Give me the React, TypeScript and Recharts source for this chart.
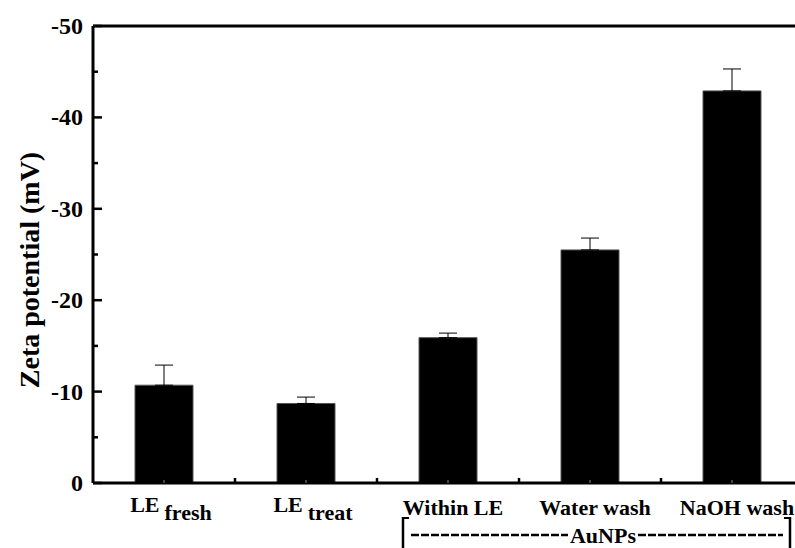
import { BarChart, Bar, XAxis, YAxis, ErrorBar, Customized } from 'recharts';

const labelMain = ['LE', 'LE', 'Within LE', 'Water wash', 'NaOH wash'];
const labelSub = ['fresh', 'treat', '', '', ''];
const zeta = [-10.7, -8.7, -15.9, -25.5, -42.9];
const zetaErr = [2.2, 0.7, 0.5, 1.3, 2.4];
const yTicks = [0, -5, -10, -15, -20, -25, -30, -35, -40, -45, -50];
const yTitle = 'Zeta potential (mV)';
const groupLabel = 'AuNPs';

// error bars only point away from zero (upwards on the reversed axis)
const data = labelMain.map((m, i) => ({
  name: m + (labelSub[i] ? ' ' + labelSub[i] : ''),
  main: m,
  sub: labelSub[i],
  zeta: zeta[i],
  err: [zetaErr[i], 0],
}));

const FONT = '"Liberation Serif", "Times New Roman", serif';
const W = 815;
const H = 548;
const PLOT_LEFT = 93;
const PLOT_TOP = 26;
const PLOT_BOTTOM = 483;
const BAND = 142;

const YTick = ({ y, payload }: any) => {
  const major = payload.value % 10 === 0;
  return (
    <g>
      <path d={`M${PLOT_LEFT},${y}h${major ? 9 : 5}`} stroke="#000" strokeWidth={2.5} fill="none" />
      {major && (
        <text x={PLOT_LEFT - 10} y={y} dy={8} textAnchor="end" fontFamily={FONT} fontWeight="bold" fontSize={24} fill="#000">
          {payload.value}
        </text>
      )}
    </g>
  );
};

const XTick = ({ x, index }: any) => {
  const d = data[index];
  const last = index === data.length - 1;
  return (
    <g>
      <path d={`M${x},${PLOT_BOTTOM}v-3`} stroke="#888" strokeWidth={1} fill="none" />
      {!last && <path d={`M${x + BAND / 2},${PLOT_BOTTOM}v-5`} stroke="#000" strokeWidth={2.5} fill="none" />}
      {d.sub ? (
        <text x={x + 7} y={511.5} textAnchor="middle" fontFamily={FONT} fontWeight="bold" fontSize={22} fill="#000">
          <tspan>{d.main}</tspan>
          <tspan dx={5} dy={8}>{d.sub}</tspan>
        </text>
      ) : (
        <text x={x + 5} y={515} textAnchor="middle" fontFamily={FONT} fontWeight="bold" fontSize={22} fill="#000">
          {d.main}
        </text>
      )}
    </g>
  );
};

const TopTick = ({ x }: any) => (
  <g>
    <path d={`M${x},${PLOT_TOP}v3M${x - BAND / 2},${PLOT_TOP}v3`} stroke="#555" strokeWidth={1} fill="none" />
  </g>
);

const Extras = () => {
  const y = 535;
  return (
    <g>
      <line x1={PLOT_LEFT} x2={W} y1={PLOT_TOP} y2={PLOT_TOP} stroke="#000" strokeWidth={3} />
      <text
        transform="translate(39,270) rotate(-90)"
        textAnchor="middle"
        fontFamily={FONT}
        fontWeight="bold"
        fontSize={28}
        fill="#000"
      >
        {yTitle}
      </text>
      <line x1={403} x2={403} y1={517} y2={550} stroke="#000" strokeWidth={2.5} />
      <line x1={402} x2={409} y1={518} y2={518} stroke="#000" strokeWidth={2} />
      <line x1={411} x2={568} y1={y} y2={y} stroke="#000" strokeWidth={2.5} strokeDasharray="8 2" />
      <text x={603} y={543} textAnchor="middle" fontFamily={FONT} fontWeight="bold" fontSize={22} fill="#000">
        {groupLabel}
      </text>
      <line x1={638} x2={783} y1={y} y2={y} stroke="#000" strokeWidth={2.5} strokeDasharray="8 2" />
      <line x1={790} x2={790} y1={517} y2={550} stroke="#000" strokeWidth={2.5} />
      <line x1={784} x2={791} y1={518} y2={518} stroke="#000" strokeWidth={2} />
    </g>
  );
};

export default function App() {
  return (
    <div style={{ position: 'absolute', left: 0, top: 0, width: 795, height: 548, overflow: 'hidden', background: '#fff' }}>
      <BarChart
        width={W}
        height={H}
        data={data}
        margin={{ top: PLOT_TOP, right: W - PLOT_LEFT - BAND * 5, bottom: 0, left: 0 }}
      >
        <XAxis
          dataKey="name"
          axisLine={{ stroke: '#000', strokeWidth: 3 }}
          tickLine={false}
          tick={<XTick />}
          interval={0}
          height={H - PLOT_BOTTOM}
        />
        <XAxis
          xAxisId="top"
          dataKey="name"
          orientation="top"
          axisLine={false}
          tickLine={false}
          tick={<TopTick />}
          interval={0}
          height={0}
        />
        <YAxis
          domain={[-50, 0]}
          reversed
          ticks={yTicks}
          interval={0}
          width={PLOT_LEFT}
          axisLine={{ stroke: '#000', strokeWidth: 3 }}
          tickLine={false}
          tick={<YTick />}
        />
        <Bar dataKey="zeta" fill="#000" stroke="#555" strokeWidth={1} barSize={58} isAnimationActive={false}>
          <ErrorBar dataKey="err" width={9} stroke="#000" strokeWidth={1} direction="y" />
        </Bar>
        <Customized component={Extras} />
      </BarChart>
    </div>
  );
}
